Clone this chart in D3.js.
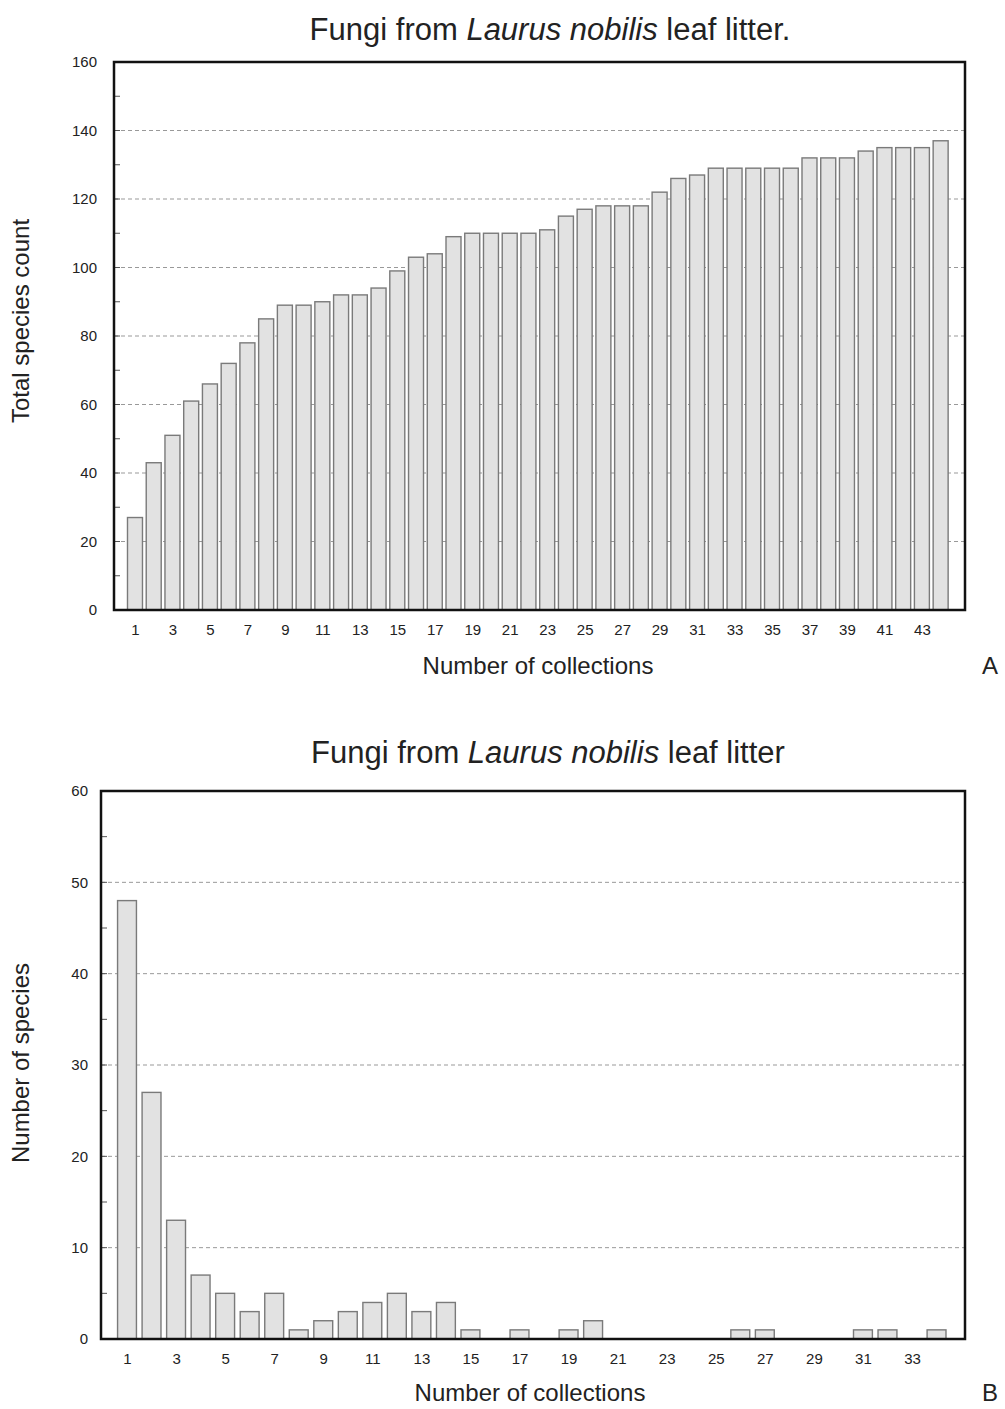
<!DOCTYPE html>
<html>
<head>
<meta charset="utf-8">
<script src="https://cdn.jsdelivr.net/npm/d3@7"></script>
<style>
  body { margin: 0; background: #fff; }
  text { font-family: "Liberation Sans", Arial, sans-serif; fill: #222; }
  .tick text { font-size: 15px; }
  .axisLabel { font-size: 24px; }
  .title { font-size: 31px; }
  .grid line { stroke: #999; stroke-dasharray: 4,3; stroke-width: 1; }
  .bar { fill: #e2e2e2; stroke: #7a7a7a; stroke-width: 1.4; }
</style>
</head>
<body>
<div id="chart"></div>
<script>
// Chart A: cumulative species count
var collectionsA = d3.range(1, 45);
var totalSpecies = [27, 43, 51, 61, 66, 72, 78, 85, 89, 89, 90, 92, 92, 94, 99, 103, 104, 109, 110, 110,
  110, 110, 111, 115, 117, 118, 118, 118, 122, 126, 127, 129, 129, 129, 129, 129, 132, 132, 132, 134,
  135, 135, 135, 137];
var yTicksA = [0, 20, 40, 60, 80, 100, 120, 140, 160];

// Chart B: species per number of collections
var collectionsB = d3.range(1, 35);
var speciesCount = [48, 27, 13, 7, 5, 3, 5, 1, 2, 3, 4, 5, 3, 4, 1, 0, 1, 0, 1, 2,
  0, 0, 0, 0, 0, 1, 1, 0, 0, 0, 1, 1, 0, 1];
var yTicksB = [0, 10, 20, 30, 40, 50, 60];

var svg = d3.select("#chart")
  .append("svg")
  .attr("width", 1005)
  .attr("height", 1409);

function makeBarchart(opts) {
  var box = opts.box;
  var g = svg.append("g");

  var xScale = d3.scaleLinear()
    .domain(opts.xDomain)
    .range([box.left, box.right]);
  var step = xScale(2) - xScale(1);

  var yScale = d3.scaleLinear()
    .domain([0, opts.yMax])
    .range([box.bottom, box.top]);

  // dashed grid
  g.append("g")
    .attr("class", "grid")
    .selectAll("line")
    .data(opts.yTicks.filter(function(d) { return d > 0 && d < opts.yMax; }))
    .enter()
    .append("line")
    .attr("x1", box.left)
    .attr("x2", box.right)
    .attr("y1", function(d) { return yScale(d); })
    .attr("y2", function(d) { return yScale(d); });

  // minor ticks inside left edge
  g.selectAll(".minor")
    .data(d3.range(0, opts.yMax + 1, opts.yTicks[1] / 2))
    .enter()
    .append("line")
    .attr("x1", box.left)
    .attr("x2", box.left + 6)
    .attr("y1", function(d) { return yScale(d); })
    .attr("y2", function(d) { return yScale(d); })
    .style("stroke", "#555")
    .style("stroke-width", 1);

  // bars
  g.selectAll(".bar")
    .data(opts.values)
    .enter()
    .append("rect")
    .attr("class", "bar")
    .attr("x", function(d, i) { return xScale(opts.cats[i]) - step * opts.barFrac / 2; })
    .attr("width", step * opts.barFrac)
    .attr("y", function(d) { return yScale(d); })
    .attr("height", function(d) { return box.bottom - yScale(d); })
    .style("display", function(d) { return d > 0 ? null : "none"; });

  // y axis labels
  var yAxis = g.append("g")
    .attr("transform", "translate(" + box.left + ",0)")
    .call(d3.axisLeft(yScale).tickValues(opts.yTicks).tickSize(0).tickPadding(opts.yPad));
  yAxis.select(".domain").remove();

  // x axis labels (odd numbers)
  var xAxis = g.append("g")
    .attr("transform", "translate(0," + box.bottom + ")")
    .call(d3.axisBottom(xScale)
      .tickValues(opts.cats.filter(function(d) { return d % 2 == 1; }))
      .tickFormat(d3.format("d"))
      .tickSize(0).tickPadding(14));
  xAxis.select(".domain").remove();

  // frame
  g.append("rect")
    .attr("x", box.left)
    .attr("y", box.top)
    .attr("width", box.right - box.left)
    .attr("height", box.bottom - box.top)
    .style("fill", "none")
    .style("stroke", "#111")
    .style("stroke-width", 2.5);

  // title
  var title = g.append("text")
    .attr("class", "title")
    .attr("x", opts.titleX)
    .attr("y", opts.titleY)
    .style("text-anchor", "middle");
  title.append("tspan").text("Fungi from ");
  title.append("tspan").style("font-style", "italic").text("Laurus nobilis");
  title.append("tspan").text(opts.titleEnd);

  // x label
  g.append("text")
    .attr("class", "axisLabel")
    .attr("x", opts.xLabelX)
    .attr("y", opts.xLabelY)
    .style("text-anchor", "middle")
    .text("Number of collections");

  // y label
  g.append("text")
    .attr("class", "axisLabel")
    .attr("transform", "translate(29," + opts.yLabelY + ") rotate(-90)")
    .style("text-anchor", "middle")
    .text(opts.yLabel);

  // panel letter
  g.append("text")
    .attr("class", "axisLabel")
    .attr("x", 982)
    .attr("y", opts.xLabelY)
    .text(opts.letter);
}

makeBarchart({
  box: {left: 114, right: 965, top: 62, bottom: 610},
  xDomain: [-0.12, 45.3],
  yMax: 160,
  yTicks: yTicksA,
  yPad: 17,
  cats: collectionsA,
  values: totalSpecies,
  barFrac: 0.8,
  titleX: 550, titleY: 40, titleEnd: " leaf litter.",
  xLabelX: 538, xLabelY: 674,
  yLabel: "Total species count", yLabelY: 321,
  letter: "A"
});

makeBarchart({
  box: {left: 101, right: 965, top: 791, bottom: 1339},
  xDomain: [-0.06, 35.16],
  yMax: 60,
  yTicks: yTicksB,
  yPad: 13,
  cats: collectionsB,
  values: speciesCount,
  barFrac: 0.77,
  titleX: 548, titleY: 763, titleEnd: " leaf litter",
  xLabelX: 530, xLabelY: 1401,
  yLabel: "Number of species", yLabelY: 1063,
  letter: "B"
});
</script>
</body>
</html>
